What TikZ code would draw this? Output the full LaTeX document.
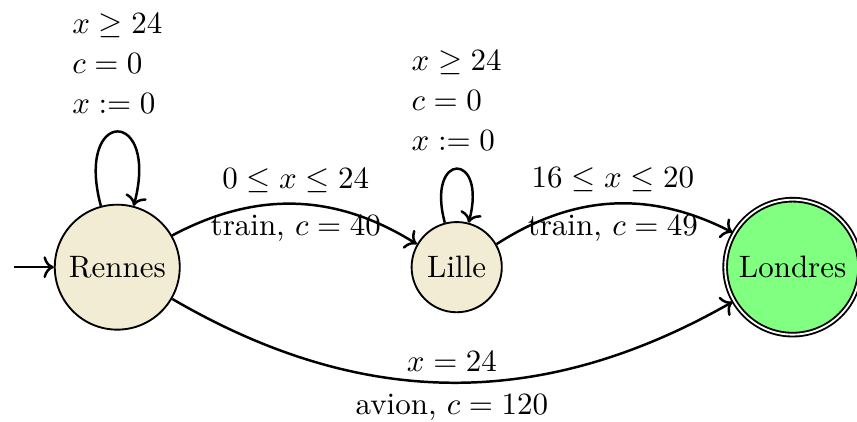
\documentclass[tikz,border=0pt]{standalone}
\usepackage{amsmath}
\usetikzlibrary{automata,arrows.meta}
\definecolor{villeBeige}{RGB}{243,236,212}
\definecolor{finVert}{RGB}{128,255,128}
\tikzset{
  ville/.style={state, semithick, fill=villeBeige, font=\normalsize},
  arrivee/.style={ville, accepting, fill=finVert},
  trajet/.style={->, thick},
  every initial by arrow/.style={->, thick},
  garde/.style={align=left, above=0.8mm}
}

\begin{document}
\begin{tikzpicture}[x=1mm,y=1mm]
  \useasboundingbox (-13.3,-17.5) rectangle (83.9,30.3);
  \node[ville, initial, initial text=] (rennes) at (0,0) {Rennes};
  \node[ville] (lille) at (38.5,0) {Lille};
  \node[arrivee] (londres) at (76.6,0) {Londres};

  \draw[trajet] (rennes) to[loop above] node[garde]{$x \geq 24$\\[0.8pt]$c = 0$\\[0.8pt]$x := 0$} (rennes);
  \draw[trajet] (lille) to[loop above] node[garde]{$x \geq 24$\\[0.8pt]$c = 0$\\[0.8pt]$x := 0$} (lille);

  \draw[trajet] (rennes) to[bend left] node[above]{$0 \leq x \leq 24$} node[below]{train, $c = 40$} (lille);
  \draw[trajet] (lille) to[bend left] node[above]{$16 \leq x \leq 20$} node[below]{train, $c = 49$} (londres);
  \draw[trajet] (rennes) to[bend right] node[above]{$x = 24$} node[below]{avion, $c = 120$} (londres);
\end{tikzpicture}
\end{document}
